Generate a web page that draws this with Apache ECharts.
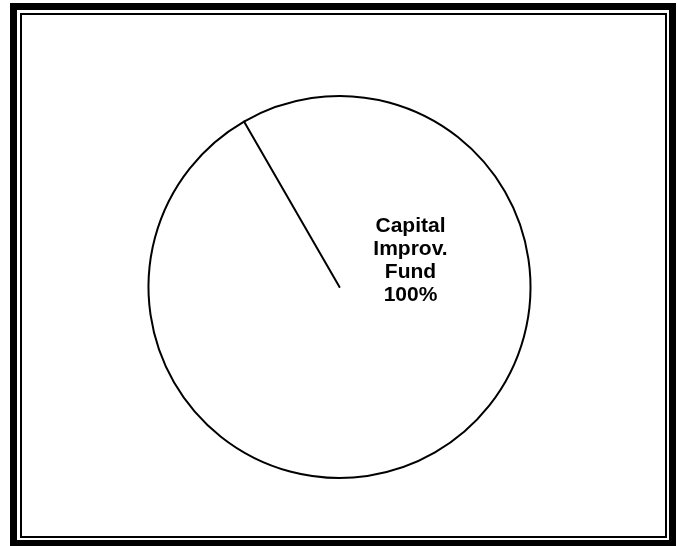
<!DOCTYPE html>
<html>
<head>
<meta charset="utf-8">
<script src="https://cdn.jsdelivr.net/npm/echarts@6/dist/echarts.min.js"></script>
<style>
  html, body { margin: 0; padding: 0; background: #fff; }
  #chart { width: 678px; height: 546px; }
</style>
</head>
<body>
<div id="chart"></div>
<script>
// one fund takes the whole pie
let names = ['Capital\nImprov.\nFund', '']
let values = [100, 0]

function main() {
  var chart = echarts.init(document.getElementById('chart'), null, { renderer: 'canvas' })

  let data = names.map((n, i) => {
    let item = { name: n, value: values[i] }
    if (values[i] === 0) {
      item.label = { show: false }
      item.labelLine = { show: false }
    }
    return item
  })

  let option = {
    backgroundColor: '#fff',
    animation: false,
    graphic: [
      // thick outer frame
      {
        type: 'rect',
        shape: { x: 13.5, y: 6.5, width: 659, height: 537 },
        style: { fill: 'none', stroke: '#000', lineWidth: 7 },
        silent: true
      },
      // thin inner frame
      {
        type: 'rect',
        shape: { x: 21, y: 14, width: 645, height: 523 },
        style: { fill: 'none', stroke: '#000', lineWidth: 2 },
        silent: true
      }
    ],
    series: [
      {
        type: 'pie',
        center: [339.5, 287],
        radius: 191,
        startAngle: 120,
        clockwise: true,
        silent: true,
        minAngle: 0,
        itemStyle: {
          color: '#fff',
          borderColor: '#000',
          borderWidth: 2
        },
        label: {
          show: true,
          position: 'center',
          offset: [71, -26],
          formatter: (p) => p.name + '\n' + p.percent.toFixed(0) + '%',
          fontFamily: 'Liberation Sans, Arial, sans-serif',
          fontWeight: 'bold',
          fontSize: 21,
          lineHeight: 23,
          color: '#000',
          align: 'center'
        },
        labelLine: { show: false },
        emphasis: { disabled: true },
        data: data
      }
    ]
  }
  chart.setOption(option)
}

main()
</script>
</body>
</html>
